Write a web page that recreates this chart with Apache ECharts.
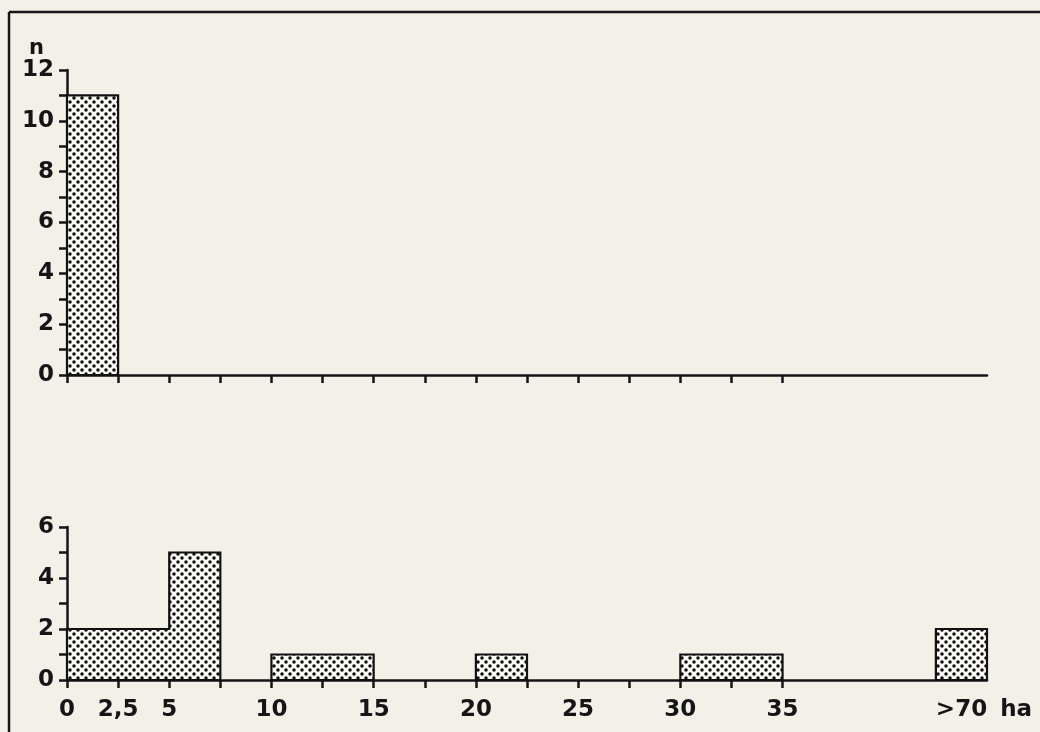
<!DOCTYPE html>
<html>
<head>
<meta charset="utf-8">
<style>
  html, body { margin: 0; padding: 0; background: #f3f0e8; }
  #chart { width: 1040px; height: 732px; }
</style>
<script src="https://cdn.jsdelivr.net/npm/echarts@6/dist/echarts.min.js"></script>
</head>
<body>
<div id="chart"></div>
<script>
// ---- data ----
const binWidth = 2.5;                       // ha per class
const binStarts = [0, 2.5, 5, 7.5, 10, 12.5, 15, 17.5, 20, 22.5, 25, 27.5, 30, 32.5];
const topCounts    = [11, 0, 0, 0, 0, 0, 0, 0, 0, 0, 0, 0, 0, 0];
const bottomCounts = [2, 2, 5, 0, 1, 1, 0, 0, 1, 0, 0, 0, 1, 1];
const over70Label = '>70';
const over70Slot = 42.5;                    // axis slot used for the ">70" class
const topOver70 = 0;
const bottomOver70 = 2;
const tickValues = [0, 2.5, 5, 7.5, 10, 12.5, 15, 17.5, 20, 22.5, 25, 27.5, 30, 32.5, 35];
const labelValues = [0, 2.5, 5, 10, 15, 20, 25, 30, 35];
const labelTexts  = ['0', '2,5', '5', '10', '15', '20', '25', '30', '35'];
const unitLabel = 'ha';
const yName = 'n';

// ---- pattern ----
function makePattern() {
  const s = 8;
  const c = document.createElement('canvas');
  c.width = s; c.height = s;
  const g = c.getContext('2d');
  g.fillStyle = '#fbfaf5';
  g.fillRect(0, 0, s, s);
  g.fillStyle = '#0d0d0d';
  [[2, 2], [6, 6]].forEach(([x, y]) => {
    g.beginPath(); g.arc(x, y, 1.75, 0, Math.PI * 2); g.fill();
  });
  return { image: c, repeat: 'repeat' };
}
const pattern = makePattern();

// build union outlines of contiguous non-zero classes
function buildRegions(counts, over70) {
  const bins = binStarts.map((s, i) => [s, s + binWidth, counts[i]]);
  bins.push([over70Slot, over70Slot + binWidth, over70]);
  const regions = [];
  let cur = null;
  bins.forEach(([l, r, v]) => {
    if (v > 0) {
      if (cur && Math.abs(cur.end - l) < 1e-9) {
        cur.pts.push([l, v], [r, v]);
        cur.end = r; cur.max = Math.max(cur.max, v);
      } else {
        if (cur) regions.push(cur);
        cur = { start: l, end: r, max: v, pts: [[l, 0], [l, v], [r, v]] };
      }
    } else if (cur) { regions.push(cur); cur = null; }
  });
  if (cur) regions.push(cur);
  regions.forEach(rg => rg.pts.push([rg.end, 0]));
  return regions;
}

function histSeries(counts, over70, idx) {
  const regions = buildRegions(counts, over70);
  return {
    type: 'custom',
    xAxisIndex: idx, yAxisIndex: idx,
    data: regions.map(r => [r.start, r.end, r.max]),
    encode: { x: [0, 1], y: 2 },
    silent: true,
    renderItem: function (params, api) {
      const rg = regions[params.dataIndex];
      const pts = rg.pts.map(p => api.coord(p));
      return {
        type: 'polygon',
        shape: { points: pts },
        style: { fill: pattern, stroke: '#111', lineWidth: 2.2 }
      };
    }
  };
}

const ink = '#151515';
const font = { fontFamily: '"DejaVu Sans", Verdana, sans-serif', fontWeight: 'bold', fontSize: 23, color: ink };

function xAxisCfg(idx, withLabels) {
  return {
    type: 'value', gridIndex: idx, min: 0, max: over70Slot + binWidth,
    splitLine: { show: false },
    axisLine: { show: true, onZero: false, lineStyle: { color: ink, width: 2.5 } },
    axisTick: { show: true, customValues: tickValues, length: 8, lineStyle: { color: ink, width: 2.5 } },
    axisLabel: withLabels ? Object.assign({
      show: true,
      margin: 19,
      customValues: labelValues.concat([over70Slot + binWidth / 2]),
      formatter: function (v) {
        const i = labelValues.indexOf(v);
        if (i >= 0) return labelTexts[i];
        return '{p|}{a|' + over70Label + '}{b|' + unitLabel + '}';
      },
      rich: {
        p: { width: 45 },
        a: Object.assign({}, font),
        b: Object.assign({ padding: [0, 0, 0, 13] }, font)
      }
    }, font) : { show: false }
  };
}

function yAxisCfg(idx, max, withName) {
  const cfg = {
    type: 'value', gridIndex: idx, min: 0, max: max, interval: 1,
    splitLine: { show: false },
    axisLine: { show: true, lineStyle: { color: ink, width: 2.5 } },
    axisTick: { show: true, length: 8, lineStyle: { color: ink, width: 2.5 } },
    axisLabel: Object.assign({
      margin: 13,
      formatter: v => (v % 2 === 0 ? String(v) : '')
    }, font)
  };
  if (withName) {
    cfg.name = yName;
    cfg.nameLocation = 'end';
    cfg.nameGap = 11;
    cfg.nameTextStyle = Object.assign({ align: 'right', padding: [0, 23, 0, 0] }, font, { fontSize: 21 });
  }
  return cfg;
}

const chart = echarts.init(document.getElementById('chart'), null, { renderer: 'canvas' });
chart.setOption({
  backgroundColor: '#f3f0e8',
  animation: false,
  grid: [
    { left: 67, top: 70, width: 920, height: 305 },
    { left: 67, top: 527, width: 920, height: 153 }
  ],
  xAxis: [xAxisCfg(0, false), xAxisCfg(1, true)],
  yAxis: [yAxisCfg(0, 12, true), yAxisCfg(1, 6, false)],
  series: [histSeries(topCounts, topOver70, 0), histSeries(bottomCounts, bottomOver70, 1)],
  graphic: [
    { type: 'line', shape: { x1: 9, y1: 12, x2: 1040, y2: 12 }, style: { stroke: ink, lineWidth: 2.5 } },
    { type: 'line', shape: { x1: 9, y1: 12, x2: 9, y2: 732 }, style: { stroke: ink, lineWidth: 2.5 } }
  ]
});
</script>
</body>
</html>
